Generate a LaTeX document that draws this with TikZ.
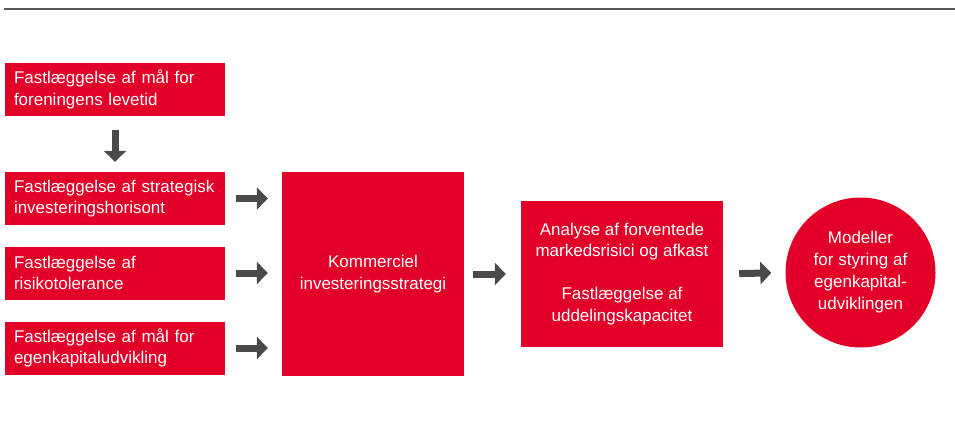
\documentclass[tikz,border=0pt]{standalone}
\usepackage{fontspec}
\setmainfont{Liberation Sans}
\usetikzlibrary{arrows.meta}
\definecolor{boxred}{HTML}{E30028}
\definecolor{arrgray}{HTML}{4A4A4A}
\definecolor{rulegray}{HTML}{5A5A5A}
\tikzset{
  leftbox/.style={fill=boxred, text=white, draw=none, inner xsep=9pt, inner ysep=0pt,
    text width=202pt, minimum height=53pt, align=left,
    font=\fontsize{17}{21.5}\selectfont},
  bigbox/.style={fill=boxred, text=white, draw=none, inner sep=0pt, align=center,
    font=\fontsize{17}{21.5}\selectfont},
  roundnode/.style={circle, fill=boxred, text=white, draw=none, inner sep=0pt,
    minimum size=150pt, align=center, font=\fontsize{17}{22}\selectfont},
  flowarrow/.style={draw=arrgray, line width=7pt,
    -{Triangle[width=22pt,length=11pt]}}
}
\begin{document}
\begin{tikzpicture}[x=1pt,y=-1pt]
\useasboundingbox (0,0) rectangle (955,425);
\coordinate (ruleL) at (4,9);
\coordinate (ruleR) at (955,9);
\draw[rulegray, line width=1.2pt] (ruleL) -- (ruleR);

\node[leftbox] (b1) at (115,89.5) {Fastlæggelse af mål for\\foreningens levetid};
\node[leftbox] (b2) at (115,198.5) {Fastlæggelse af strategisk\\investeringshorisont};
\node[leftbox] (b3) at (115,273) {Fastlæggelse af\\risikotolerance};
\node[leftbox] (b4) at (115,348) {Fastlæggelse af mål for\\egenkapitaludvikling};

\node[bigbox, minimum width=182pt, minimum height=204pt] (c) at (373,274) {Kommerciel\\investeringsstrategi};

\node[bigbox, minimum width=202pt, minimum height=146pt] (r) at (622,274) {Analyse af forventede\\markedsrisici og afkast\\[21.5pt]Fastlæggelse af\\uddelingskapacitet};

\node[roundnode] (m) at (860.5,272.5) {Modeller\\for styring af\\egenkapital-\\udviklingen};

\draw[flowarrow, shorten <=14pt, shorten >=10pt] (b1) -- (b2);
\draw[flowarrow, shorten <=11pt, shorten >=14pt] (b2.east) -- (b2.east -| c.west);
\draw[flowarrow, shorten <=11pt, shorten >=14pt] (b3.east) -- (b3.east -| c.west);
\draw[flowarrow, shorten <=11pt, shorten >=14pt] (b4.east) -- (b4.east -| c.west);
\draw[flowarrow, shorten <=9pt, shorten >=15pt] (c.east) -- (r.west);
\draw[flowarrow, shorten <=16pt, shorten >=14pt] (r.east) -- (m.west);
\end{tikzpicture}
\end{document}
